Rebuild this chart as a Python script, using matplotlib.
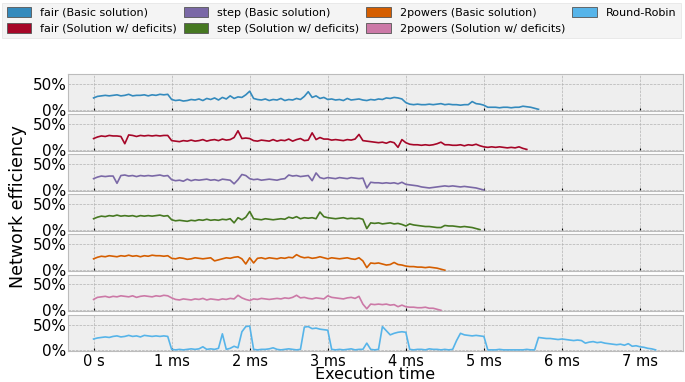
"""Network efficiency over execution time for the scheduling variants."""
import matplotlib
matplotlib.use("Agg")
import matplotlib.pyplot as plt
import numpy as np
from matplotlib.patches import Patch
from matplotlib.ticker import FuncFormatter

STEP_MS = 0.05  # sampling interval of the efficiency traces

LABELS = [
    "fair (Basic solution)",
    "fair (Solution w/ deficits)",
    "step (Basic solution)",
    "step (Solution w/ deficits)",
    "2powers (Basic solution)",
    "2powers (Solution w/ deficits)",
    "Round-Robin",
]
COLORS = ["#348ABD", "#A60628", "#7A68A6", "#467821", "#D55E00", "#CC79A7", "#56B4E9"]

# efficiency in percent, one sample every 0.05 ms starting at 0 s
fair_basic = [
    23, 26, 27, 28, 27, 28, 29, 27, 28, 30, 27, 28, 28, 29, 27, 29, 28, 30, 29, 30,
    20, 18, 19, 17, 18, 20, 19, 21, 18, 22, 20, 23, 19, 24, 21, 27, 22, 25, 24, 29,
    36, 22, 20, 19, 21, 18, 20, 19, 22, 18, 20, 19, 22, 20, 26, 35, 24, 27, 22, 24,
    20, 21, 19, 20, 18, 22, 19, 20, 21, 19, 18, 20, 19, 21, 20, 23, 22, 24, 23, 21,
    14, 11, 10, 11, 10, 10, 11, 10, 11, 12, 10, 11, 10, 10, 9, 10, 10, 16, 12, 11,
    9, 5, 5, 5, 4, 5, 5, 4, 5, 5, 7, 6, 5, 3, 1,
]
fair_deficits = [
    22, 25, 27, 26, 28, 27, 27, 26, 12, 29, 28, 26, 28, 27, 28, 27, 28, 27, 28, 28,
    18, 17, 16, 18, 17, 19, 17, 18, 20, 17, 19, 20, 18, 21, 19, 20, 24, 37, 22, 23,
    22, 18, 17, 19, 18, 17, 20, 17, 19, 18, 21, 17, 20, 22, 18, 19, 33, 20, 24, 21,
    21, 19, 20, 19, 18, 20, 19, 21, 30, 18, 17, 16, 15, 14, 15, 13, 16, 14, 5, 20,
    14, 11, 10, 10, 9, 10, 9, 10, 12, 15, 10, 10, 9, 9, 10, 8, 10, 9, 11, 8,
    6, 5, 6, 5, 6, 5, 4, 5, 4, 6, 3, 1,
]
step_basic = [
    22, 25, 27, 26, 27, 27, 13, 28, 29, 27, 28, 26, 28, 27, 28, 27, 28, 29, 27, 28,
    20, 18, 19, 17, 21, 18, 20, 19, 20, 21, 19, 20, 18, 21, 20, 19, 12, 20, 30, 28,
    22, 20, 21, 19, 20, 21, 20, 19, 21, 22, 29, 27, 28, 26, 27, 28, 18, 33, 24, 22,
    24, 23, 22, 24, 23, 22, 24, 23, 22, 23, 4, 15, 14, 14, 13, 14, 13, 14, 12, 15,
    11, 10, 9, 8, 6, 5, 4, 5, 6, 7, 8, 7, 8, 7, 6, 7, 6, 5, 4, 2,
    0,
]
step_deficits = [
    22, 25, 27, 26, 28, 27, 29, 27, 28, 27, 28, 26, 28, 27, 28, 27, 28, 29, 27, 28,
    20, 18, 19, 18, 17, 19, 18, 20, 19, 21, 19, 20, 19, 21, 20, 22, 14, 24, 20, 25,
    36, 22, 21, 20, 22, 21, 20, 21, 22, 21, 25, 23, 26, 22, 24, 23, 24, 22, 35, 26,
    24, 23, 22, 23, 24, 22, 23, 22, 23, 21, 3, 14, 13, 14, 12, 13, 14, 12, 13, 11,
    8, 12, 10, 9, 8, 7, 7, 6, 5, 5, 9, 8, 8, 7, 6, 7, 6, 5, 3, 1,
]
powers_basic = [
    22, 25, 27, 26, 28, 27, 26, 28, 27, 29, 27, 28, 26, 28, 27, 29, 28, 28, 27, 28,
    23, 22, 24, 23, 21, 22, 24, 23, 22, 23, 24, 18, 20, 22, 24, 23, 25, 26, 22, 12,
    24, 14, 23, 24, 22, 24, 23, 22, 24, 23, 25, 24, 30, 26, 24, 25, 23, 24, 26, 24,
    22, 24, 23, 22, 23, 24, 22, 21, 24, 18, 5, 14, 13, 14, 12, 10, 11, 15, 11, 10,
    8, 7, 7, 6, 6, 5, 6, 5, 4, 2, 0,
]
powers_deficits = [
    21, 25, 26, 27, 25, 27, 26, 28, 27, 26, 28, 25, 27, 28, 27, 26, 28, 27, 29, 28,
    24, 21, 20, 22, 21, 20, 22, 21, 23, 20, 22, 21, 20, 22, 21, 23, 22, 29, 24, 21,
    19, 22, 21, 23, 22, 21, 22, 23, 22, 24, 23, 25, 29, 24, 25, 23, 22, 24, 23, 22,
    28, 25, 24, 23, 22, 24, 25, 23, 27, 12, 3, 12, 11, 12, 11, 12, 10, 11, 7, 10,
    7, 6, 6, 5, 5, 6, 4, 4, 2, 0,
]
round_robin = [
    22, 24, 25, 26, 25, 27, 28, 26, 27, 29, 27, 28, 26, 29, 28, 27, 28, 27, 28, 27,
    2, 1, 2, 1, 2, 3, 2, 3, 7, 2, 3, 2, 4, 32, 2, 4, 8, 5, 36, 46,
    47, 2, 1, 2, 2, 3, 5, 2, 1, 2, 3, 2, 1, 2, 45, 46, 42, 43, 41, 40,
    39, 2, 1, 2, 1, 2, 3, 1, 2, 2, 14, 2, 1, 2, 46, 38, 30, 33, 35, 36,
    35, 2, 1, 2, 2, 1, 3, 2, 2, 1, 2, 1, 2, 19, 33, 30, 29, 28, 29, 28,
    27, 1, 1, 1, 2, 1, 1, 1, 1, 1, 1, 2, 1, 1, 25, 24, 23, 23, 22, 21,
    22, 21, 20, 19, 20, 19, 14, 16, 17, 15, 16, 14, 13, 12, 11, 12, 10, 13, 8, 9,
    7, 6, 4, 3, 1,
]
SERIES = [fair_basic, fair_deficits, step_basic, step_deficits,
          powers_basic, powers_deficits, round_robin]

X_TICKS = [0, 1, 2, 3, 4, 5, 6, 7]
X_TICK_LABELS = ["0 s", "1 ms", "2 ms", "3 ms", "4 ms", "5 ms", "6 ms", "7 ms"]


def main():
    plt.style.use("bmh")
    plt.rcParams["font.family"] = "DejaVu Sans"

    fig, axes = plt.subplots(len(SERIES), 1, figsize=(6.85, 3.82), dpi=100, sharex=True)
    fig.subplots_adjust(left=0.099, right=0.997, top=0.806, bottom=0.08, hspace=0.09)

    for ax, vals, color in zip(axes, SERIES, COLORS):
        vals = np.asarray(vals, dtype=float) / 100.0
        t = np.arange(len(vals)) * STEP_MS
        ax.plot(t, vals, color=color, lw=1.2)
        ax.set_ylim(-0.02, 0.69)
        ax.set_yticks([0, 0.5])
        ax.yaxis.set_major_formatter(FuncFormatter(lambda v, _: f"{v * 100:.0f}%"))
        ax.tick_params(axis="y", labelsize=11, pad=1, length=0)
        ax.tick_params(axis="x", labelsize=10.5, length=2, pad=1.5)
        ax.set_facecolor("#eeeeee")

    axes[-1].set_xlim(-0.33, 7.55)
    axes[-1].set_xticks(X_TICKS)
    axes[-1].set_xticklabels(X_TICK_LABELS)
    axes[-1].set_xlabel("Execution time", fontsize=11.5, labelpad=-1)
    fig.text(0.027, 0.46, "Network efficiency", rotation=90, fontsize=12.5,
             ha="center", va="center")

    handles = [Patch(facecolor=c, edgecolor="#555555", lw=0.6) for c in COLORS]
    leg = fig.legend(handles, LABELS, ncol=4, loc="upper left", mode="expand",
                     bbox_to_anchor=(0.0, 0.998, 0.997, 0.0), fontsize=8,
                     handlelength=2.2, handleheight=0.9, handletextpad=0.8,
                     columnspacing=1.0, borderaxespad=0.2, frameon=True,
                     fancybox=False)
    leg.get_frame().set_facecolor("#f2f2f2")
    leg.get_frame().set_edgecolor("#dddddd")

    fig.savefig("out.png", dpi=100)
    plt.close(fig)


if __name__ == "__main__":
    main()
